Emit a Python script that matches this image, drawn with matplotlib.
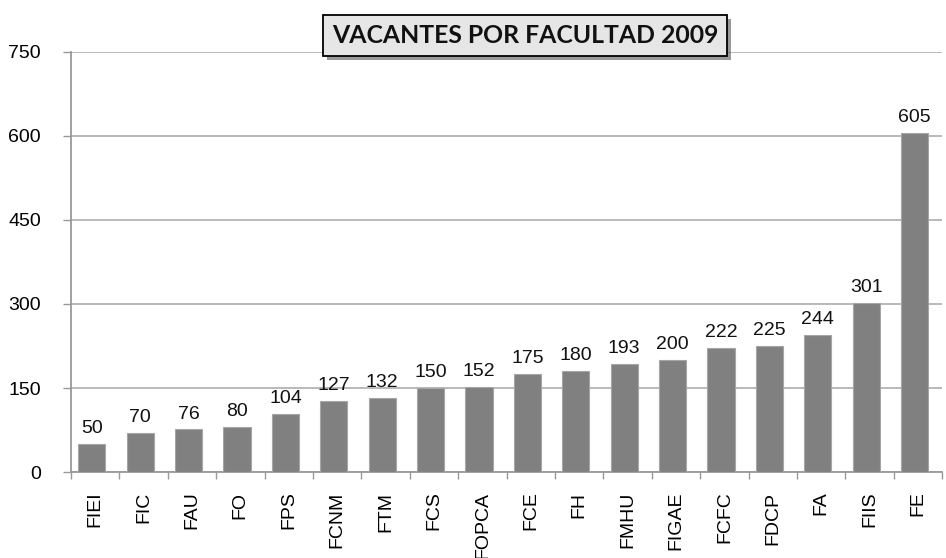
import matplotlib.pyplot as plt
import numpy as np
import matplotlib.patheffects as pe

facultades = ['FIEI', 'FIC', 'FAU', 'FO', 'FPS', 'FCNM', 'FTM', 'FCS', 'FOPCA',
              'FCE', 'FH', 'FMHU', 'FIGAE', 'FCFC', 'FDCP', 'FA', 'FIIS', 'FE']
vacantes = [50, 70, 76, 80, 104, 127, 132, 150, 152,
            175, 180, 193, 200, 222, 225, 244, 301, 605]
yticks = [0, 150, 300, 450, 600, 750]

plt.rcParams['font.family'] = ['Liberation Sans', 'DejaVu Sans']

fig = plt.figure(figsize=(9.46, 5.58), dpi=100)
ax = fig.add_axes([0.075, 0.154, 0.921, 0.753])

x = np.arange(len(facultades))
ax.bar(x - 0.07, vacantes, width=0.56, color='#808080',
       edgecolor='#a6a6a6', linewidth=0.8, zorder=3)

for xi, v in zip(x, vacantes):
    ax.annotate(str(v), (xi - 0.07, v), xytext=(0, 5), textcoords='offset points',
                ha='center', va='bottom', fontsize=14, color='#111111')

ax.set_xlim(-0.5, len(facultades) - 0.5)
ax.set_ylim(0, 750)
ax.set_yticks(yticks)
ax.set_yticklabels([str(t) for t in yticks], fontsize=14)
ax.yaxis.grid(True, color='#b3b3b3', linewidth=1.3, zorder=0)
ax.tick_params(axis='y', length=6, width=1, color='#999999', pad=15.5)

ax.set_xticks(x)
ax.set_xticklabels(facultades, rotation=90, fontsize=14, va='top')
ax.set_xticks(np.arange(-0.5, len(facultades)), minor=True)
ax.tick_params(axis='x', which='major', length=0, pad=14)
ax.tick_params(axis='x', which='minor', length=5, width=1, color='#999999')

for s in ['top', 'right']:
    ax.spines[s].set_visible(False)
for s in ['left', 'bottom']:
    ax.spines[s].set_color('#999999')
    ax.spines[s].set_linewidth(1.3)

fig.text(0.555, 0.937, 'VACANTES POR FACULTAD 2009', ha='center', va='center',
         fontsize=17.8, fontweight='bold', family=['Lato', 'DejaVu Sans'], color='#111111',
         bbox=dict(boxstyle='square,pad=0.36', facecolor='#e6e6e6', edgecolor='black',
                   linewidth=1.3,
                   path_effects=[pe.SimplePatchShadow(offset=(3, -3), shadow_rgbFace='#555555', alpha=0.6),
                                 pe.Normal()]))

fig.savefig('out.png', dpi=100)
